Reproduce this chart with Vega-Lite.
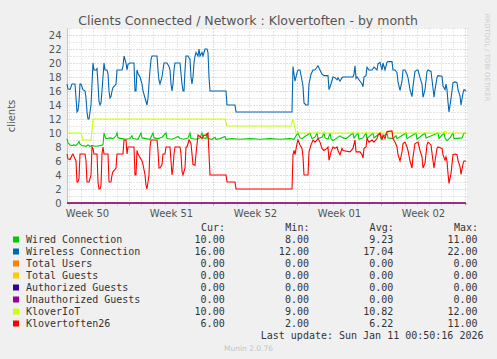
{
  "$schema": "https://vega.github.io/schema/vega-lite/v6.json",
  "width": 400,
  "height": 175,
  "autosize": {"type": "none"},
  "padding": {"left": 67, "top": 28, "right": 30, "bottom": 156},
  "background": "#f0f0f0",
  "view": {"fill": "#ffffff", "stroke": null},
  "title": {
    "text": "Clients Connected / Network : Klovertoften - by month",
    "font": "DejaVu Sans",
    "fontSize": 12.5,
    "fontWeight": "normal",
    "color": "#555555",
    "anchor": "middle",
    "frame": "group",
    "dx": -19,
    "dy": 18,
    "offset": 4
  },
  "data": {
    "values": [
      {"series":"Wired Connection","hour":20,"clients":9.2},{"series":"Wired Connection","hour":22,"clients":8.6},{"series":"Wired Connection","hour":26,"clients":8.3},{"series":"Wired Connection","hour":30,"clients":8.2},{"series":"Wired Connection","hour":34,"clients":8.3},{"series":"Wired Connection","hour":38,"clients":8.2},{"series":"Wired Connection","hour":42,"clients":8.5},{"series":"Wired Connection","hour":44,"clients":8.8},{"series":"Wired Connection","hour":46,"clients":8.4},{"series":"Wired Connection","hour":50,"clients":8.2},{"series":"Wired Connection","hour":58,"clients":8.1},{"series":"Wired Connection","hour":62,"clients":8.3},{"series":"Wired Connection","hour":66,"clients":8.1},{"series":"Wired Connection","hour":70,"clients":8.2},{"series":"Wired Connection","hour":78,"clients":8.1},{"series":"Wired Connection","hour":86,"clients":8.2},{"series":"Wired Connection","hour":92,"clients":8.3},{"series":"Wired Connection","hour":94,"clients":10},{"series":"Wired Connection","hour":96,"clients":9.5},{"series":"Wired Connection","hour":98,"clients":9.2},{"series":"Wired Connection","hour":106,"clients":9.3},{"series":"Wired Connection","hour":112,"clients":9.2},{"series":"Wired Connection","hour":118,"clients":9.6},{"series":"Wired Connection","hour":120,"clients":10},{"series":"Wired Connection","hour":122,"clients":9.3},{"series":"Wired Connection","hour":130,"clients":9.2},{"series":"Wired Connection","hour":138,"clients":9.1},{"series":"Wired Connection","hour":146,"clients":9.2},{"series":"Wired Connection","hour":150,"clients":9.6},{"series":"Wired Connection","hour":152,"clients":9.2},{"series":"Wired Connection","hour":162,"clients":9.1},{"series":"Wired Connection","hour":168,"clients":10},{"series":"Wired Connection","hour":170,"clients":9.3},{"series":"Wired Connection","hour":178,"clients":9.2},{"series":"Wired Connection","hour":186,"clients":9.1},{"series":"Wired Connection","hour":192,"clients":10},{"series":"Wired Connection","hour":194,"clients":9.3},{"series":"Wired Connection","hour":202,"clients":9.2},{"series":"Wired Connection","hour":210,"clients":9.4},{"series":"Wired Connection","hour":218,"clients":10},{"series":"Wired Connection","hour":220,"clients":9.2},{"series":"Wired Connection","hour":230,"clients":9.1},{"series":"Wired Connection","hour":236,"clients":9.3},{"series":"Wired Connection","hour":242,"clients":9.5},{"series":"Wired Connection","hour":246,"clients":9.2},{"series":"Wired Connection","hour":254,"clients":9.1},{"series":"Wired Connection","hour":262,"clients":9.3},{"series":"Wired Connection","hour":266,"clients":10},{"series":"Wired Connection","hour":268,"clients":9.2},{"series":"Wired Connection","hour":278,"clients":9.1},{"series":"Wired Connection","hour":286,"clients":9.3},{"series":"Wired Connection","hour":290,"clients":10},{"series":"Wired Connection","hour":292,"clients":9.3},{"series":"Wired Connection","hour":298,"clients":9.2},{"series":"Wired Connection","hour":300,"clients":10},{"series":"Wired Connection","hour":302,"clients":9.2},{"series":"Wired Connection","hour":310,"clients":9.1},{"series":"Wired Connection","hour":316,"clients":9.4},{"series":"Wired Connection","hour":318,"clients":9.1},{"series":"Wired Connection","hour":326,"clients":9.2},{"series":"Wired Connection","hour":336,"clients":9.5},{"series":"Wired Connection","hour":338,"clients":9.1},{"series":"Wired Connection","hour":350,"clients":9.2},{"series":"Wired Connection","hour":366,"clients":9.1},{"series":"Wired Connection","hour":386,"clients":9.2},{"series":"Wired Connection","hour":406,"clients":9.1},{"series":"Wired Connection","hour":426,"clients":9.2},{"series":"Wired Connection","hour":446,"clients":9.1},{"series":"Wired Connection","hour":466,"clients":9.2},{"series":"Wired Connection","hour":474,"clients":9.1},{"series":"Wired Connection","hour":478,"clients":9.6},{"series":"Wired Connection","hour":482,"clients":10},{"series":"Wired Connection","hour":486,"clients":9.3},{"series":"Wired Connection","hour":490,"clients":9.2},{"series":"Wired Connection","hour":496,"clients":9.5},{"series":"Wired Connection","hour":506,"clients":10},{"series":"Wired Connection","hour":510,"clients":9.2},{"series":"Wired Connection","hour":516,"clients":9.4},{"series":"Wired Connection","hour":520,"clients":10},{"series":"Wired Connection","hour":522,"clients":9.2},{"series":"Wired Connection","hour":530,"clients":9.4},{"series":"Wired Connection","hour":534,"clients":10},{"series":"Wired Connection","hour":536,"clients":9.3},{"series":"Wired Connection","hour":542,"clients":9.1},{"series":"Wired Connection","hour":546,"clients":10},{"series":"Wired Connection","hour":548,"clients":9.2},{"series":"Wired Connection","hour":552,"clients":8.9},{"series":"Wired Connection","hour":558,"clients":9.2},{"series":"Wired Connection","hour":566,"clients":9.6},{"series":"Wired Connection","hour":572,"clients":9.3},{"series":"Wired Connection","hour":578,"clients":9.2},{"series":"Wired Connection","hour":592,"clients":10},{"series":"Wired Connection","hour":594,"clients":9.3},{"series":"Wired Connection","hour":602,"clients":10},{"series":"Wired Connection","hour":604,"clients":9.1},{"series":"Wired Connection","hour":612,"clients":9.3},{"series":"Wired Connection","hour":618,"clients":10},{"series":"Wired Connection","hour":620,"clients":9.2},{"series":"Wired Connection","hour":632,"clients":10},{"series":"Wired Connection","hour":634,"clients":9.3},{"series":"Wired Connection","hour":646,"clients":10},{"series":"Wired Connection","hour":648,"clients":9.2},{"series":"Wired Connection","hour":660,"clients":10},{"series":"Wired Connection","hour":662,"clients":9.3},{"series":"Wired Connection","hour":672,"clients":9.2},{"series":"Wired Connection","hour":678,"clients":9.6},{"series":"Wired Connection","hour":680,"clients":9.2},{"series":"Wired Connection","hour":698,"clients":10},{"series":"Wired Connection","hour":700,"clients":9.2},{"series":"Wired Connection","hour":718,"clients":10},{"series":"Wired Connection","hour":720,"clients":9.1},{"series":"Wired Connection","hour":736,"clients":10},{"series":"Wired Connection","hour":738,"clients":9.3},{"series":"Wired Connection","hour":762,"clients":10},{"series":"Wired Connection","hour":764,"clients":9.2},{"series":"Wired Connection","hour":774,"clients":10},{"series":"Wired Connection","hour":776,"clients":9.3},{"series":"Wired Connection","hour":780,"clients":8.9},{"series":"Wired Connection","hour":786,"clients":9.3},{"series":"Wired Connection","hour":792,"clients":10},{"series":"Wired Connection","hour":794,"clients":9.2},{"series":"Wired Connection","hour":810,"clients":9.3},{"series":"Wired Connection","hour":814,"clients":10},{"series":"Wired Connection","hour":818,"clients":10},
      {"series":"Wireless Connection","hour":20,"clients":17},{"series":"Wireless Connection","hour":22,"clients":16.3},{"series":"Wireless Connection","hour":26,"clients":16.2},{"series":"Wireless Connection","hour":30,"clients":17},{"series":"Wireless Connection","hour":36,"clients":17},{"series":"Wireless Connection","hour":38,"clients":15},{"series":"Wireless Connection","hour":40,"clients":13},{"series":"Wireless Connection","hour":42,"clients":13.2},{"series":"Wireless Connection","hour":44,"clients":14.5},{"series":"Wireless Connection","hour":46,"clients":17},{"series":"Wireless Connection","hour":48,"clients":17},{"series":"Wireless Connection","hour":52,"clients":16.2},{"series":"Wireless Connection","hour":56,"clients":16},{"series":"Wireless Connection","hour":58,"clients":15},{"series":"Wireless Connection","hour":60,"clients":13},{"series":"Wireless Connection","hour":62,"clients":12},{"series":"Wireless Connection","hour":64,"clients":12},{"series":"Wireless Connection","hour":66,"clients":13},{"series":"Wireless Connection","hour":68,"clients":14},{"series":"Wireless Connection","hour":70,"clients":17},{"series":"Wireless Connection","hour":72,"clients":20},{"series":"Wireless Connection","hour":74,"clients":19},{"series":"Wireless Connection","hour":78,"clients":19},{"series":"Wireless Connection","hour":80,"clients":19.2},{"series":"Wireless Connection","hour":82,"clients":17},{"series":"Wireless Connection","hour":84,"clients":14.5},{"series":"Wireless Connection","hour":86,"clients":14},{"series":"Wireless Connection","hour":88,"clients":14.3},{"series":"Wireless Connection","hour":90,"clients":16},{"series":"Wireless Connection","hour":92,"clients":18},{"series":"Wireless Connection","hour":94,"clients":20},{"series":"Wireless Connection","hour":96,"clients":19},{"series":"Wireless Connection","hour":100,"clients":19},{"series":"Wireless Connection","hour":102,"clients":18.5},{"series":"Wireless Connection","hour":104,"clients":16},{"series":"Wireless Connection","hour":106,"clients":15},{"series":"Wireless Connection","hour":108,"clients":15.2},{"series":"Wireless Connection","hour":110,"clients":16},{"series":"Wireless Connection","hour":112,"clients":16.5},{"series":"Wireless Connection","hour":116,"clients":16.8},{"series":"Wireless Connection","hour":118,"clients":17},{"series":"Wireless Connection","hour":120,"clients":19},{"series":"Wireless Connection","hour":130,"clients":19},{"series":"Wireless Connection","hour":132,"clients":19.5},{"series":"Wireless Connection","hour":134,"clients":21},{"series":"Wireless Connection","hour":136,"clients":20.5},{"series":"Wireless Connection","hour":138,"clients":20},{"series":"Wireless Connection","hour":140,"clients":19},{"series":"Wireless Connection","hour":142,"clients":19.8},{"series":"Wireless Connection","hour":146,"clients":20},{"series":"Wireless Connection","hour":154,"clients":20},{"series":"Wireless Connection","hour":156,"clients":16},{"series":"Wireless Connection","hour":158,"clients":16},{"series":"Wireless Connection","hour":160,"clients":19},{"series":"Wireless Connection","hour":162,"clients":18.5},{"series":"Wireless Connection","hour":166,"clients":18},{"series":"Wireless Connection","hour":168,"clients":17.5},{"series":"Wireless Connection","hour":170,"clients":17},{"series":"Wireless Connection","hour":172,"clients":16},{"series":"Wireless Connection","hour":176,"clients":15},{"series":"Wireless Connection","hour":178,"clients":14.5},{"series":"Wireless Connection","hour":180,"clients":14},{"series":"Wireless Connection","hour":182,"clients":15},{"series":"Wireless Connection","hour":184,"clients":17},{"series":"Wireless Connection","hour":186,"clients":19},{"series":"Wireless Connection","hour":188,"clients":20.5},{"series":"Wireless Connection","hour":190,"clients":21},{"series":"Wireless Connection","hour":200,"clients":21},{"series":"Wireless Connection","hour":202,"clients":19},{"series":"Wireless Connection","hour":204,"clients":17.5},{"series":"Wireless Connection","hour":206,"clients":17},{"series":"Wireless Connection","hour":210,"clients":18},{"series":"Wireless Connection","hour":212,"clients":19},{"series":"Wireless Connection","hour":214,"clients":20},{"series":"Wireless Connection","hour":220,"clients":20},{"series":"Wireless Connection","hour":224,"clients":19.5},{"series":"Wireless Connection","hour":226,"clients":19},{"series":"Wireless Connection","hour":228,"clients":17},{"series":"Wireless Connection","hour":230,"clients":16},{"series":"Wireless Connection","hour":232,"clients":17},{"series":"Wireless Connection","hour":234,"clients":19},{"series":"Wireless Connection","hour":236,"clients":20},{"series":"Wireless Connection","hour":246,"clients":20},{"series":"Wireless Connection","hour":250,"clients":17},{"series":"Wireless Connection","hour":252,"clients":16},{"series":"Wireless Connection","hour":254,"clients":16},{"series":"Wireless Connection","hour":256,"clients":19},{"series":"Wireless Connection","hour":258,"clients":21},{"series":"Wireless Connection","hour":262,"clients":21},{"series":"Wireless Connection","hour":266,"clients":20.5},{"series":"Wireless Connection","hour":268,"clients":18},{"series":"Wireless Connection","hour":270,"clients":17},{"series":"Wireless Connection","hour":272,"clients":18},{"series":"Wireless Connection","hour":274,"clients":20},{"series":"Wireless Connection","hour":276,"clients":21},{"series":"Wireless Connection","hour":278,"clients":21.5},{"series":"Wireless Connection","hour":282,"clients":21},{"series":"Wireless Connection","hour":284,"clients":22},{"series":"Wireless Connection","hour":286,"clients":21},{"series":"Wireless Connection","hour":290,"clients":21.5},{"series":"Wireless Connection","hour":292,"clients":21},{"series":"Wireless Connection","hour":296,"clients":22},{"series":"Wireless Connection","hour":300,"clients":22},{"series":"Wireless Connection","hour":302,"clients":21.5},{"series":"Wireless Connection","hour":304,"clients":18},{"series":"Wireless Connection","hour":306,"clients":16},{"series":"Wireless Connection","hour":338,"clients":16},{"series":"Wireless Connection","hour":340,"clients":14},{"series":"Wireless Connection","hour":356,"clients":14},{"series":"Wireless Connection","hour":358,"clients":13},{"series":"Wireless Connection","hour":470,"clients":13},{"series":"Wireless Connection","hour":472,"clients":19.5},{"series":"Wireless Connection","hour":476,"clients":17.4},{"series":"Wireless Connection","hour":480,"clients":18.6},{"series":"Wireless Connection","hour":482,"clients":19},{"series":"Wireless Connection","hour":486,"clients":19},{"series":"Wireless Connection","hour":490,"clients":17.5},{"series":"Wireless Connection","hour":492,"clients":16.7},{"series":"Wireless Connection","hour":494,"clients":14.3},{"series":"Wireless Connection","hour":498,"clients":14},{"series":"Wireless Connection","hour":502,"clients":14},{"series":"Wireless Connection","hour":504,"clients":17},{"series":"Wireless Connection","hour":508,"clients":18.4},{"series":"Wireless Connection","hour":512,"clients":19},{"series":"Wireless Connection","hour":516,"clients":19},{"series":"Wireless Connection","hour":520,"clients":19.4},{"series":"Wireless Connection","hour":522,"clients":19.6},{"series":"Wireless Connection","hour":526,"clients":19},{"series":"Wireless Connection","hour":530,"clients":18.4},{"series":"Wireless Connection","hour":534,"clients":18.2},{"series":"Wireless Connection","hour":542,"clients":18.2},{"series":"Wireless Connection","hour":544,"clients":16.2},{"series":"Wireless Connection","hour":548,"clients":17},{"series":"Wireless Connection","hour":552,"clients":18},{"series":"Wireless Connection","hour":556,"clients":17.9},{"series":"Wireless Connection","hour":560,"clients":17.6},{"series":"Wireless Connection","hour":562,"clients":17.9},{"series":"Wireless Connection","hour":566,"clients":17.4},{"series":"Wireless Connection","hour":570,"clients":17.9},{"series":"Wireless Connection","hour":572,"clients":18},{"series":"Wireless Connection","hour":592,"clients":18},{"series":"Wireless Connection","hour":594,"clients":18.4},{"series":"Wireless Connection","hour":596,"clients":19.6},{"series":"Wireless Connection","hour":598,"clients":17.8},{"series":"Wireless Connection","hour":600,"clients":18},{"series":"Wireless Connection","hour":606,"clients":17.4},{"series":"Wireless Connection","hour":610,"clients":17},{"series":"Wireless Connection","hour":612,"clients":16.6},{"series":"Wireless Connection","hour":614,"clients":18},{"series":"Wireless Connection","hour":618,"clients":18.2},{"series":"Wireless Connection","hour":620,"clients":19.4},{"series":"Wireless Connection","hour":624,"clients":19},{"series":"Wireless Connection","hour":630,"clients":19},{"series":"Wireless Connection","hour":634,"clients":19.4},{"series":"Wireless Connection","hour":640,"clients":19},{"series":"Wireless Connection","hour":642,"clients":19.9},{"series":"Wireless Connection","hour":646,"clients":20.1},{"series":"Wireless Connection","hour":650,"clients":19},{"series":"Wireless Connection","hour":652,"clients":20},{"series":"Wireless Connection","hour":656,"clients":19},{"series":"Wireless Connection","hour":660,"clients":20.1},{"series":"Wireless Connection","hour":662,"clients":20.2},{"series":"Wireless Connection","hour":670,"clients":20.2},{"series":"Wireless Connection","hour":672,"clients":19},{"series":"Wireless Connection","hour":676,"clients":19},{"series":"Wireless Connection","hour":680,"clients":18.6},{"series":"Wireless Connection","hour":682,"clients":17.3},{"series":"Wireless Connection","hour":686,"clients":16.1},{"series":"Wireless Connection","hour":690,"clients":17.4},{"series":"Wireless Connection","hour":692,"clients":19},{"series":"Wireless Connection","hour":696,"clients":19},{"series":"Wireless Connection","hour":700,"clients":18.4},{"series":"Wireless Connection","hour":702,"clients":17.9},{"series":"Wireless Connection","hour":706,"clients":16.2},{"series":"Wireless Connection","hour":710,"clients":15.2},{"series":"Wireless Connection","hour":712,"clients":16.7},{"series":"Wireless Connection","hour":716,"clients":18.8},{"series":"Wireless Connection","hour":720,"clients":19},{"series":"Wireless Connection","hour":722,"clients":19},{"series":"Wireless Connection","hour":726,"clients":17.9},{"series":"Wireless Connection","hour":730,"clients":17},{"series":"Wireless Connection","hour":732,"clients":15.1},{"series":"Wireless Connection","hour":736,"clients":16.2},{"series":"Wireless Connection","hour":740,"clients":18.8},{"series":"Wireless Connection","hour":742,"clients":19},{"series":"Wireless Connection","hour":748,"clients":18.8},{"series":"Wireless Connection","hour":752,"clients":16.4},{"series":"Wireless Connection","hour":754,"clients":15.1},{"series":"Wireless Connection","hour":756,"clients":16.2},{"series":"Wireless Connection","hour":760,"clients":17.9},{"series":"Wireless Connection","hour":762,"clients":18.2},{"series":"Wireless Connection","hour":770,"clients":18.1},{"series":"Wireless Connection","hour":772,"clients":16.7},{"series":"Wireless Connection","hour":776,"clients":16.2},{"series":"Wireless Connection","hour":778,"clients":17},{"series":"Wireless Connection","hour":780,"clients":16.2},{"series":"Wireless Connection","hour":782,"clients":14.4},{"series":"Wireless Connection","hour":784,"clients":13},{"series":"Wireless Connection","hour":788,"clients":14.9},{"series":"Wireless Connection","hour":792,"clients":17.2},{"series":"Wireless Connection","hour":796,"clients":17.3},{"series":"Wireless Connection","hour":800,"clients":17.2},{"series":"Wireless Connection","hour":802,"clients":16.2},{"series":"Wireless Connection","hour":806,"clients":15.3},{"series":"Wireless Connection","hour":808,"clients":14},{"series":"Wireless Connection","hour":812,"clients":15.7},{"series":"Wireless Connection","hour":814,"clients":16.2},{"series":"Wireless Connection","hour":818,"clients":16},
      {"series":"Total Users","hour":20,"clients":0},{"series":"Total Users","hour":818,"clients":0},
      {"series":"Total Guests","hour":20,"clients":0},{"series":"Total Guests","hour":818,"clients":0},
      {"series":"Authorized Guests","hour":20,"clients":0},{"series":"Authorized Guests","hour":818,"clients":0},
      {"series":"Unauthorized Guests","hour":20,"clients":0},{"series":"Unauthorized Guests","hour":818,"clients":0},
      {"series":"KloverIoT","hour":20,"clients":10},{"series":"KloverIoT","hour":48,"clients":10},{"series":"KloverIoT","hour":52,"clients":9},{"series":"KloverIoT","hour":68,"clients":9},{"series":"KloverIoT","hour":72,"clients":12},{"series":"KloverIoT","hour":336,"clients":12},{"series":"KloverIoT","hour":340,"clients":11},{"series":"KloverIoT","hour":468,"clients":11},{"series":"KloverIoT","hour":472,"clients":12},{"series":"KloverIoT","hour":478,"clients":10},{"series":"KloverIoT","hour":774,"clients":10},{"series":"KloverIoT","hour":776,"clients":10.3},{"series":"KloverIoT","hour":780,"clients":10},{"series":"KloverIoT","hour":818,"clients":10},
      {"series":"Klovertoften26","hour":20,"clients":7},{"series":"Klovertoften26","hour":22,"clients":6.3},{"series":"Klovertoften26","hour":26,"clients":6.2},{"series":"Klovertoften26","hour":30,"clients":6.8},{"series":"Klovertoften26","hour":32,"clients":7},{"series":"Klovertoften26","hour":38,"clients":6},{"series":"Klovertoften26","hour":40,"clients":3},{"series":"Klovertoften26","hour":42,"clients":3},{"series":"Klovertoften26","hour":44,"clients":3.5},{"series":"Klovertoften26","hour":46,"clients":7},{"series":"Klovertoften26","hour":56,"clients":7},{"series":"Klovertoften26","hour":58,"clients":6},{"series":"Klovertoften26","hour":60,"clients":3},{"series":"Klovertoften26","hour":64,"clients":3},{"series":"Klovertoften26","hour":66,"clients":3.5},{"series":"Klovertoften26","hour":68,"clients":4},{"series":"Klovertoften26","hour":70,"clients":8},{"series":"Klovertoften26","hour":72,"clients":7.8},{"series":"Klovertoften26","hour":74,"clients":7},{"series":"Klovertoften26","hour":80,"clients":7},{"series":"Klovertoften26","hour":82,"clients":3},{"series":"Klovertoften26","hour":84,"clients":2},{"series":"Klovertoften26","hour":86,"clients":2},{"series":"Klovertoften26","hour":88,"clients":2.5},{"series":"Klovertoften26","hour":90,"clients":7},{"series":"Klovertoften26","hour":92,"clients":8},{"series":"Klovertoften26","hour":94,"clients":7},{"series":"Klovertoften26","hour":102,"clients":7},{"series":"Klovertoften26","hour":104,"clients":3},{"series":"Klovertoften26","hour":108,"clients":3},{"series":"Klovertoften26","hour":110,"clients":4},{"series":"Klovertoften26","hour":112,"clients":4.5},{"series":"Klovertoften26","hour":116,"clients":4.8},{"series":"Klovertoften26","hour":118,"clients":5},{"series":"Klovertoften26","hour":120,"clients":7},{"series":"Klovertoften26","hour":132,"clients":7},{"series":"Klovertoften26","hour":134,"clients":9},{"series":"Klovertoften26","hour":138,"clients":9},{"series":"Klovertoften26","hour":140,"clients":7},{"series":"Klovertoften26","hour":142,"clients":8},{"series":"Klovertoften26","hour":154,"clients":8},{"series":"Klovertoften26","hour":156,"clients":4},{"series":"Klovertoften26","hour":158,"clients":4},{"series":"Klovertoften26","hour":160,"clients":7.5},{"series":"Klovertoften26","hour":162,"clients":7},{"series":"Klovertoften26","hour":166,"clients":6.5},{"series":"Klovertoften26","hour":170,"clients":6},{"series":"Klovertoften26","hour":172,"clients":5.5},{"series":"Klovertoften26","hour":176,"clients":4},{"series":"Klovertoften26","hour":178,"clients":2.5},{"series":"Klovertoften26","hour":180,"clients":2},{"series":"Klovertoften26","hour":182,"clients":3},{"series":"Klovertoften26","hour":184,"clients":4},{"series":"Klovertoften26","hour":186,"clients":8},{"series":"Klovertoften26","hour":188,"clients":9},{"series":"Klovertoften26","hour":200,"clients":9},{"series":"Klovertoften26","hour":202,"clients":7.5},{"series":"Klovertoften26","hour":204,"clients":5},{"series":"Klovertoften26","hour":206,"clients":5},{"series":"Klovertoften26","hour":210,"clients":5.5},{"series":"Klovertoften26","hour":212,"clients":7},{"series":"Klovertoften26","hour":216,"clients":7},{"series":"Klovertoften26","hour":218,"clients":8},{"series":"Klovertoften26","hour":226,"clients":8},{"series":"Klovertoften26","hour":228,"clients":6},{"series":"Klovertoften26","hour":230,"clients":4},{"series":"Klovertoften26","hour":232,"clients":5},{"series":"Klovertoften26","hour":234,"clients":7},{"series":"Klovertoften26","hour":236,"clients":8},{"series":"Klovertoften26","hour":246,"clients":8},{"series":"Klovertoften26","hour":248,"clients":7},{"series":"Klovertoften26","hour":250,"clients":4.5},{"series":"Klovertoften26","hour":252,"clients":4},{"series":"Klovertoften26","hour":256,"clients":5},{"series":"Klovertoften26","hour":258,"clients":8},{"series":"Klovertoften26","hour":260,"clients":8},{"series":"Klovertoften26","hour":264,"clients":9},{"series":"Klovertoften26","hour":268,"clients":8.5},{"series":"Klovertoften26","hour":272,"clients":5.5},{"series":"Klovertoften26","hour":276,"clients":5.4},{"series":"Klovertoften26","hour":278,"clients":7},{"series":"Klovertoften26","hour":282,"clients":9.7},{"series":"Klovertoften26","hour":286,"clients":9.5},{"series":"Klovertoften26","hour":290,"clients":9.2},{"series":"Klovertoften26","hour":294,"clients":9.7},{"series":"Klovertoften26","hour":298,"clients":9.7},{"series":"Klovertoften26","hour":302,"clients":10},{"series":"Klovertoften26","hour":304,"clients":7},{"series":"Klovertoften26","hour":306,"clients":4},{"series":"Klovertoften26","hour":338,"clients":4},{"series":"Klovertoften26","hour":340,"clients":3},{"series":"Klovertoften26","hour":356,"clients":3},{"series":"Klovertoften26","hour":358,"clients":2},{"series":"Klovertoften26","hour":470,"clients":2},{"series":"Klovertoften26","hour":472,"clients":6.9},{"series":"Klovertoften26","hour":474,"clients":7.5},{"series":"Klovertoften26","hour":476,"clients":6.9},{"series":"Klovertoften26","hour":480,"clients":8.5},{"series":"Klovertoften26","hour":482,"clients":9},{"series":"Klovertoften26","hour":486,"clients":8.3},{"series":"Klovertoften26","hour":490,"clients":7.8},{"series":"Klovertoften26","hour":492,"clients":6.6},{"series":"Klovertoften26","hour":494,"clients":4},{"series":"Klovertoften26","hour":502,"clients":4},{"series":"Klovertoften26","hour":504,"clients":7.3},{"series":"Klovertoften26","hour":508,"clients":8.3},{"series":"Klovertoften26","hour":512,"clients":9},{"series":"Klovertoften26","hour":516,"clients":8.7},{"series":"Klovertoften26","hour":520,"clients":9},{"series":"Klovertoften26","hour":522,"clients":9.2},{"series":"Klovertoften26","hour":526,"clients":8.7},{"series":"Klovertoften26","hour":530,"clients":7.8},{"series":"Klovertoften26","hour":534,"clients":7.5},{"series":"Klovertoften26","hour":540,"clients":7.8},{"series":"Klovertoften26","hour":542,"clients":8},{"series":"Klovertoften26","hour":544,"clients":6.1},{"series":"Klovertoften26","hour":548,"clients":7.3},{"series":"Klovertoften26","hour":552,"clients":8},{"series":"Klovertoften26","hour":556,"clients":7.8},{"series":"Klovertoften26","hour":560,"clients":8},{"series":"Klovertoften26","hour":562,"clients":7.5},{"series":"Klovertoften26","hour":566,"clients":6.9},{"series":"Klovertoften26","hour":570,"clients":7.8},{"series":"Klovertoften26","hour":572,"clients":7.5},{"series":"Klovertoften26","hour":586,"clients":7.3},{"series":"Klovertoften26","hour":592,"clients":7.8},{"series":"Klovertoften26","hour":596,"clients":9},{"series":"Klovertoften26","hour":598,"clients":7.3},{"series":"Klovertoften26","hour":606,"clients":7.3},{"series":"Klovertoften26","hour":610,"clients":6.9},{"series":"Klovertoften26","hour":612,"clients":6.4},{"series":"Klovertoften26","hour":614,"clients":7.8},{"series":"Klovertoften26","hour":618,"clients":8},{"series":"Klovertoften26","hour":620,"clients":9.2},{"series":"Klovertoften26","hour":624,"clients":8.7},{"series":"Klovertoften26","hour":630,"clients":9},{"series":"Klovertoften26","hour":634,"clients":8.7},{"series":"Klovertoften26","hour":640,"clients":9.2},{"series":"Klovertoften26","hour":642,"clients":9.7},{"series":"Klovertoften26","hour":646,"clients":10},{"series":"Klovertoften26","hour":650,"clients":9},{"series":"Klovertoften26","hour":652,"clients":9.7},{"series":"Klovertoften26","hour":656,"clients":9.2},{"series":"Klovertoften26","hour":660,"clients":10.2},{"series":"Klovertoften26","hour":670,"clients":10.3},{"series":"Klovertoften26","hour":672,"clients":9.2},{"series":"Klovertoften26","hour":676,"clients":8.7},{"series":"Klovertoften26","hour":680,"clients":8},{"series":"Klovertoften26","hour":682,"clients":6.9},{"series":"Klovertoften26","hour":686,"clients":6},{"series":"Klovertoften26","hour":690,"clients":7.3},{"series":"Klovertoften26","hour":692,"clients":8.5},{"series":"Klovertoften26","hour":696,"clients":8.7},{"series":"Klovertoften26","hour":700,"clients":8},{"series":"Klovertoften26","hour":702,"clients":7.5},{"series":"Klovertoften26","hour":706,"clients":6},{"series":"Klovertoften26","hour":710,"clients":5},{"series":"Klovertoften26","hour":712,"clients":6.6},{"series":"Klovertoften26","hour":716,"clients":8.5},{"series":"Klovertoften26","hour":722,"clients":8.7},{"series":"Klovertoften26","hour":726,"clients":7.5},{"series":"Klovertoften26","hour":730,"clients":6.6},{"series":"Klovertoften26","hour":732,"clients":5},{"series":"Klovertoften26","hour":736,"clients":5.7},{"series":"Klovertoften26","hour":740,"clients":8.3},{"series":"Klovertoften26","hour":742,"clients":8.7},{"series":"Klovertoften26","hour":748,"clients":8.3},{"series":"Klovertoften26","hour":752,"clients":6},{"series":"Klovertoften26","hour":754,"clients":5},{"series":"Klovertoften26","hour":756,"clients":6},{"series":"Klovertoften26","hour":760,"clients":7.8},{"series":"Klovertoften26","hour":762,"clients":8},{"series":"Klovertoften26","hour":770,"clients":7.8},{"series":"Klovertoften26","hour":772,"clients":6.9},{"series":"Klovertoften26","hour":776,"clients":6.1},{"series":"Klovertoften26","hour":778,"clients":6.6},{"series":"Klovertoften26","hour":780,"clients":6},{"series":"Klovertoften26","hour":782,"clients":4.2},{"series":"Klovertoften26","hour":784,"clients":2.8},{"series":"Klovertoften26","hour":788,"clients":4.2},{"series":"Klovertoften26","hour":792,"clients":6.9},{"series":"Klovertoften26","hour":796,"clients":7},{"series":"Klovertoften26","hour":800,"clients":6.9},{"series":"Klovertoften26","hour":802,"clients":6.1},{"series":"Klovertoften26","hour":806,"clients":5.2},{"series":"Klovertoften26","hour":808,"clients":4.1},{"series":"Klovertoften26","hour":812,"clients":5.6},{"series":"Klovertoften26","hour":814,"clients":6},{"series":"Klovertoften26","hour":818,"clients":6}
    ]
  },
  "layer": [
    {
      "mark": {"type": "line", "strokeWidth": 1.1, "clip": false},
      "encoding": {
        "x": {
          "field": "hour",
          "type": "quantitative",
          "scale": {"domain": [20, 820], "nice": false, "zero": false},
          "axis": {
            "values": [24,36,48,60,72,84,96,108,120,132,144,156,168,180,192,204,216,228,240,252,264,276,288,300,312,324,336,348,360,372,384,396,408,420,432,444,456,468,480,492,504,516,528,540,552,564,576,588,600,612,624,636,648,660,672,684,696,708,720,732,744,756,768,780,792,804,816],
            "labelExpr": "indexof([60,228,396,564,732], datum.value) < 0 ? '' : ['Week 50','Week 51','Week 52','Week 01','Week 02'][indexof([60,228,396,564,732], datum.value)]",
            "labelOverlap": false,
            "labelFlush": false,
            "labelFont": "DejaVu Sans",
            "labelFontSize": 10,
            "labelColor": "#555555",
            "labelPadding": 3,
            "grid": true,
            "gridDash": [1, 2],
            "gridWidth": 1,
            "gridColor": {"condition": {"test": "(datum.value - 144) % 168 == 0", "value": "#f0a0a0"}, "value": "#d0d0d0"},
            "gridOpacity": {"condition": {"test": "datum.value % 24 == 0", "value": 1}, "value": 0},
            "ticks": true,
            "tickSize": 2,
            "tickColor": {"condition": {"test": "(datum.value - 144) % 168 == 0", "value": "#f08080"}, "value": "#d0d0d0"},
            "tickOpacity": {"condition": {"test": "datum.value % 24 == 0", "value": 1}, "value": 0},
            "domain": true,
            "domainColor": "#c0c0ee",
            "title": "Last update: Sun Jan 11 00:50:16 2026",
            "titleFont": "DejaVu Sans Mono",
            "titleFontSize": 10,
            "titleFontWeight": "normal",
            "titleColor": "#333333",
            "titleX": 416,
            "titleY": 132.5,
            "titleAlign": "right",
            "titleBaseline": "middle",
            "titleAnchor": null
          }
        },
        "y": {
          "field": "clients",
          "type": "quantitative",
          "scale": {"domain": [0, 25], "nice": false, "zero": true},
          "axis": {
            "values": [0,1,2,3,4,5,6,7,8,9,10,11,12,13,14,15,16,17,18,19,20,21,22,23,24,25],
            "labelExpr": "datum.value % 2 == 0 ? datum.label : ''",
            "labelOverlap": false,
            "labelFlush": false,
            "labelFont": "DejaVu Sans",
            "labelFontSize": 10,
            "labelColor": "#555555",
            "labelPadding": 6,
            "ticks": false,
            "tickSize": 0,
            "grid": true,
            "gridDash": [1, 2],
            "gridWidth": 1,
            "gridColor": {"condition": {"test": "datum.value % 2 == 0", "value": "#f0a8a8"}, "value": "#d0d0d0"},
            "domain": true,
            "domainColor": "#c0c0ee",
            "title": "clients",
            "titleFont": "DejaVu Sans",
            "titleFontSize": 10,
            "titleFontWeight": "normal",
            "titleColor": "#555555",
            "titleX": -56,
            "titleY": 87.5,
            "titleAngle": 270,
            "titleAlign": "center",
            "titleBaseline": "middle"
          }
        },
        "color": {
          "field": "series",
          "type": "nominal",
          "scale": {
            "domain": ["Wired Connection","Wireless Connection","Total Users","Total Guests","Authorized Guests","Unauthorized Guests","KloverIoT","Klovertoften26"],
            "range": ["#00cc00","#0066b3","#ff8000","#ffcc00","#330099","#990099","#ccff00","#ff0000"]
          },
          "legend": {
            "orient": "none",
            "legendX": -56,
            "legendY": 194.5,
            "padding": 0,
            "title": "Cur:\u00a0\u00a0\u00a0\u00a0\u00a0\u00a0\u00a0\u00a0\u00a0\u00a0Min:\u00a0\u00a0\u00a0\u00a0\u00a0\u00a0\u00a0\u00a0\u00a0\u00a0Avg:\u00a0\u00a0\u00a0\u00a0\u00a0\u00a0\u00a0\u00a0\u00a0\u00a0Max:",
            "titleAnchor": "end",
            "titleFont": "DejaVu Sans Mono",
            "titleFontSize": 10,
            "titleFontWeight": "normal",
            "titleColor": "#333333",
            "titlePadding": 2,
            "titleLimit": 1000,
            "labelFont": "DejaVu Sans Mono",
            "labelFontSize": 10,
            "labelColor": "#333333",
            "labelLimit": 1000,
            "labelOffset": 5,
            "rowPadding": 2,
            "symbolType": "square",
            "symbolSize": 36,
            "symbolStrokeWidth": 0,
            "labelExpr": "pad(datum.label, 28, '\u00a0') + pad(['10.00','16.00','0.00','0.00','0.00','0.00','10.00','6.00'][indexof(['Wired Connection','Wireless Connection','Total Users','Total Guests','Authorized Guests','Unauthorized Guests','KloverIoT','Klovertoften26'], datum.label)], 5, '\u00a0', 'left') + pad(['8.00','12.00','0.00','0.00','0.00','0.00','9.00','2.00'][indexof(['Wired Connection','Wireless Connection','Total Users','Total Guests','Authorized Guests','Unauthorized Guests','KloverIoT','Klovertoften26'], datum.label)], 14, '\u00a0', 'left') + pad(['9.23','17.04','0.00','0.00','0.00','0.00','10.82','6.22'][indexof(['Wired Connection','Wireless Connection','Total Users','Total Guests','Authorized Guests','Unauthorized Guests','KloverIoT','Klovertoften26'], datum.label)], 14, '\u00a0', 'left') + pad(['11.00','22.00','0.00','0.00','0.00','0.00','12.00','11.00'][indexof(['Wired Connection','Wireless Connection','Total Users','Total Guests','Authorized Guests','Unauthorized Guests','KloverIoT','Klovertoften26'], datum.label)], 14, '\u00a0', 'left')",
            "encode": {
              "symbols": {"update": {"fill": {"scale": "color", "field": "value"}, "strokeWidth": {"value": 0}}}
            }
          }
        }
      }
    },
    {
      "transform": [{"filter": "datum.series == 'Total Users'"}],
      "mark": {"type": "point", "opacity": 0},
      "encoding": {
        "x": {
          "field": "hour",
          "type": "quantitative",
          "axis": {
            "orient": "top",
            "labels": false,
            "ticks": false,
            "domain": false,
            "grid": false,
            "title": "Munin 2.0.76",
            "titleFont": "DejaVu Sans",
            "titleFontSize": 7.5,
            "titleFontWeight": "normal",
            "titleColor": "#c4c4c4",
            "titleX": 181,
            "titleY": 320.3,
            "titleAlign": "center",
            "titleBaseline": "middle"
          }
        },
        "y": {
          "field": "clients",
          "type": "quantitative",
          "axis": {
            "orient": "right",
            "labels": false,
            "ticks": false,
            "domain": false,
            "grid": false,
            "title": "RRDTOOL / TOBI OETIKER",
            "titleFont": "DejaVu Sans",
            "titleFontSize": 6.8,
            "titleFontWeight": "normal",
            "titleColor": "#cccccc",
            "titleAngle": 90,
            "titleX": 19.7,
            "titleY": 29,
            "titleAlign": "center",
            "titleBaseline": "middle"
          }
        }
      }
    }
  ],
  "resolve": {"axis": {"x": "independent", "y": "independent"}}
}
